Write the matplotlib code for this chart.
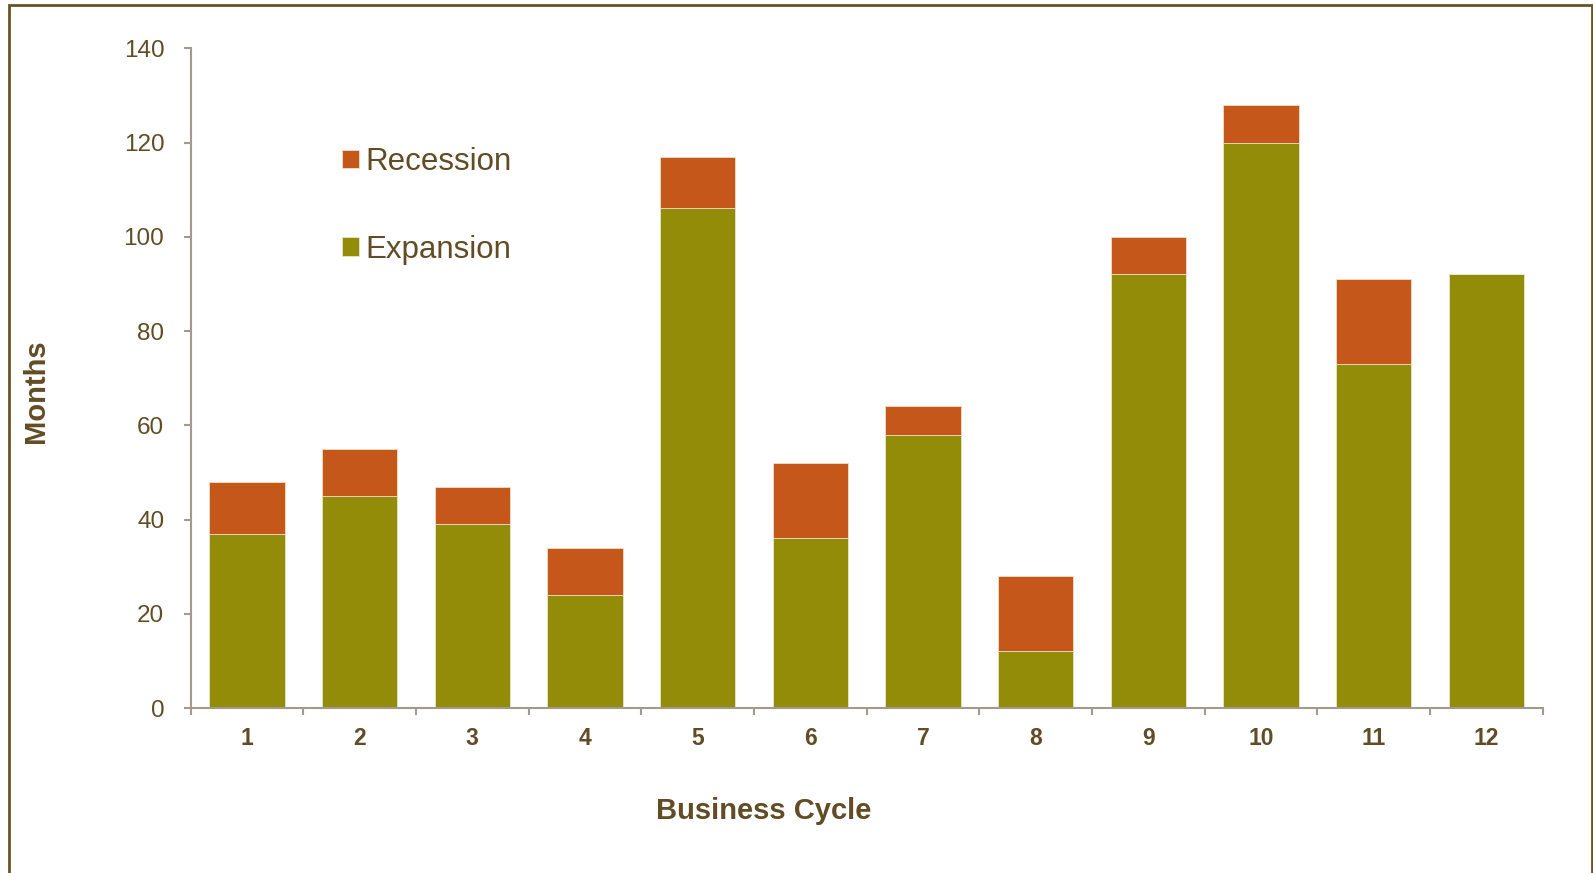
import numpy as np
import matplotlib
matplotlib.use("Agg")
import matplotlib.pyplot as plt
from matplotlib.patches import Rectangle

# Postwar US business cycles: months of expansion followed by recession
cycles = ["1", "2", "3", "4", "5", "6", "7", "8", "9", "10", "11", "12"]
expansion = [37, 45, 39, 24, 106, 36, 58, 12, 92, 120, 73, 92]
recession = [11, 10, 8, 10, 11, 16, 6, 16, 8, 8, 18, 0]

text_col = "#614C26"
axis_col = "#A39A8E"
exp_col = "#938C08"
rec_col = "#C5571B"

plt.rcParams["font.family"] = ["Liberation Sans", "DejaVu Sans"]

fig = plt.figure(figsize=(15.93, 8.73), dpi=100)
ax = fig.add_axes([0.1197, 0.189, 0.8487, 0.7557])

x = np.arange(len(cycles))
b_exp = ax.bar(x, expansion, width=0.667, color=exp_col, edgecolor="#EEEBD5",
               linewidth=0.5, label="Expansion")
b_rec = ax.bar(x, recession, width=0.667, bottom=expansion, color=rec_col,
               edgecolor="#EEEBD5", linewidth=0.5, label="Recession")

ax.set_xlim(-0.5, len(cycles) - 0.5)
ax.set_ylim(0, 140)
ax.set_yticks(np.arange(0, 141, 20))

# labels centred under bars, tick marks on the category boundaries
ax.set_xticks(x)
ax.set_xticklabels(cycles, fontsize=16.5, fontweight="bold", color=text_col)
ax.set_xticks(np.arange(-0.5, len(cycles)), minor=True)
ax.tick_params(axis="x", which="major", length=0, pad=14)
ax.tick_params(axis="x", which="minor", length=5, width=1.5, color=axis_col,
               direction="out")
ax.tick_params(axis="y", length=5, width=1.5, color=axis_col, direction="out",
               pad=14, labelsize=17.5, labelcolor=text_col)

for side in ["top", "right"]:
    ax.spines[side].set_visible(False)
for side in ["left", "bottom"]:
    ax.spines[side].set_color(axis_col)
    ax.spines[side].set_linewidth(1.5)

fig.text(0.0223, 0.552, "Months", rotation=90, ha="center", va="center",
         fontsize=21, fontweight="bold", color=text_col)
fig.text(0.4796, 0.0710, "Business Cycle", ha="center", va="center",
         fontsize=21, fontweight="bold", color=text_col)

leg = ax.legend(handles=[b_rec, b_exp], loc="upper left",
                bbox_to_anchor=(0.1, 0.874), frameon=False, fontsize=22.5,
                handlelength=0.55, handleheight=0.55, handletextpad=0.2,
                labelspacing=1.85, borderpad=0)
for t in leg.get_texts():
    t.set_color(text_col)

# outer frame around the chart
fig.patches.append(Rectangle((8.5 / 1593, -0.02), (1591.5 - 8.5) / 1593, 0.02 + 868 / 873,
                             transform=fig.transFigure, fill=False,
                             edgecolor="#6B5328", linewidth=2.0))

fig.savefig("out.png", dpi=100)
